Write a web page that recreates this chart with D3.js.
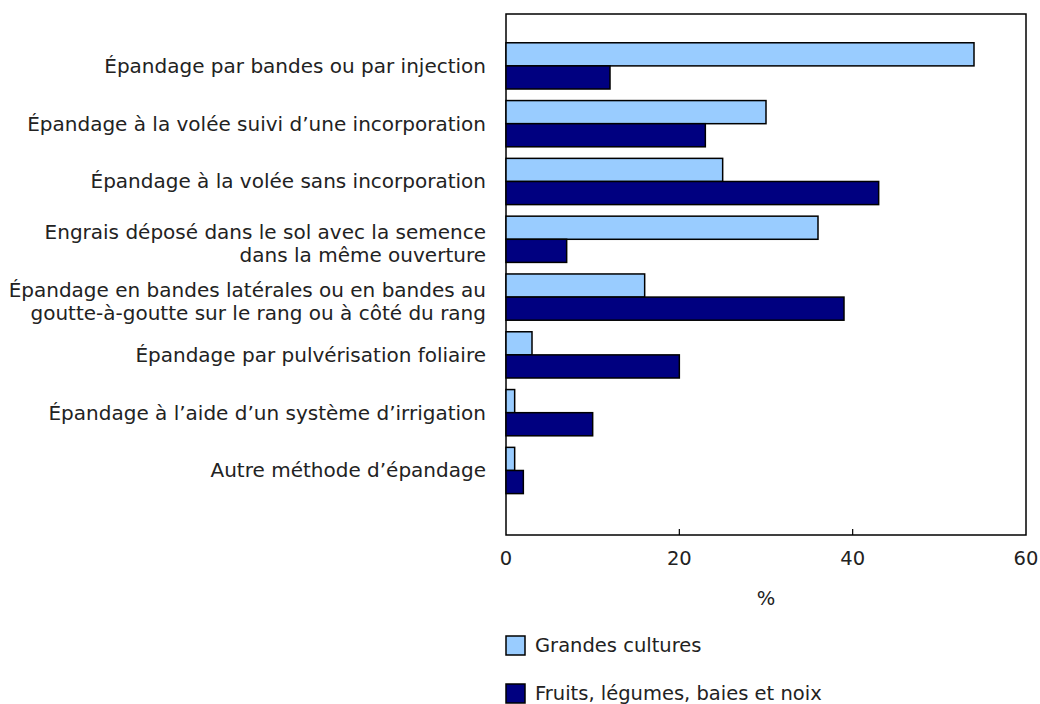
<!DOCTYPE html>
<html>
<head>
<meta charset="utf-8">
<script src="https://d3js.org/d3.v7.min.js"></script>
<style>
  body { margin: 0; background: #fff; }
  svg text { font-family: "DejaVu Sans", Verdana, sans-serif; fill: #222; }
</style>
</head>
<body>
<svg width="1040" height="704"></svg>
<script>
// categories (one array of lines per label)
var categories = [
  ["Épandage par bandes ou par injection"],
  ["Épandage à la volée suivi d’une incorporation"],
  ["Épandage à la volée sans incorporation"],
  ["Engrais déposé dans le sol avec la semence", "dans la même ouverture"],
  ["Épandage en bandes latérales ou en bandes au", "goutte-à-goutte sur le rang ou à côté du rang"],
  ["Épandage par pulvérisation foliaire"],
  ["Épandage à l’aide d’un système d’irrigation"],
  ["Autre méthode d’épandage"]
];
var seriesNames = ["Grandes cultures", "Fruits, légumes, baies et noix"];
var grandes = [54, 30, 25, 36, 16, 3, 1, 1];
var fruits = [12, 23, 43, 7, 39, 20, 10, 2];
var xTicks = [0, 20, 40, 60];
var colors = ["#99ccff", "#000080"];

var svg = d3.select("svg");
var plotL = 506, plotR = 1026, plotT = 14, plotB = 535;

var x = d3.scaleLinear().domain([0, 60]).range([plotL, plotR]);
var keys = categories.map(function(d, i) { return i; });
var y = d3.scaleBand().domain(keys).range([plotT, plotB])
  .paddingInner(0.2).paddingOuter(0.607).align(0.41);
var ySub = d3.scaleBand().domain([0, 1]).range([0, y.bandwidth()]);

var data = keys.map(function(i) { return [grandes[i], fruits[i]]; });

// frame
svg.append("rect")
  .attr("x", plotL).attr("y", plotT)
  .attr("width", plotR - plotL).attr("height", plotB - plotT)
  .attr("fill", "none").attr("stroke", "#000").attr("stroke-width", 1.5);

// inner ticks on x axis
svg.append("g").selectAll("line")
  .data(xTicks.slice(1, -1))
  .enter().append("line")
    .attr("x1", function(d) { return x(d); })
    .attr("x2", function(d) { return x(d); })
    .attr("y1", plotB).attr("y2", plotB - 6)
    .attr("stroke", "#000").attr("stroke-width", 1.2);

// bars
var groups = svg.append("g").selectAll("g")
  .data(data)
  .enter().append("g")
    .attr("transform", function(d, i) { return "translate(0," + y(i) + ")"; });

groups.selectAll("rect")
  .data(function(d) { return d; })
  .enter().append("rect")
    .attr("x", x(0))
    .attr("y", function(d, j) { return ySub(j); })
    .attr("width", function(d) { return x(d) - x(0); })
    .attr("height", ySub.bandwidth())
    .attr("fill", function(d, j) { return colors[j]; })
    .attr("stroke", "#000")
    .attr("stroke-width", 1.5);

// category labels
var lineH = 23;
svg.append("g").selectAll("text")
  .data(categories)
  .enter().append("text")
    .attr("text-anchor", "end")
    .attr("font-size", 20)
    .attr("y", function(d, i) {
      var c = y(i) + y.bandwidth() / 2;
      return d.length > 1 ? c - 7 : c;
    })
    .each(function(d) {
      var t = d3.select(this);
      d.forEach(function(line, k) {
        t.append("tspan")
          .attr("x", plotL - 20)
          .attr("dy", k === 0 ? "0.35em" : lineH)
          .text(line);
      });
    });

// tick labels
svg.append("g").selectAll("text")
  .data(xTicks)
  .enter().append("text")
    .attr("x", function(d) { return x(d); })
    .attr("y", 565)
    .attr("text-anchor", "middle")
    .attr("font-size", 19.5)
    .text(function(d) { return d; });

svg.append("text")
  .attr("x", (plotL + plotR) / 2)
  .attr("y", 605)
  .attr("text-anchor", "middle")
  .attr("font-size", 19.5)
  .text("%");

// legend
var legend = svg.append("g").selectAll("g")
  .data(seriesNames)
  .enter().append("g")
    .attr("transform", function(d, i) { return "translate(506," + (636 + i * 48) + ")"; });

legend.append("rect")
  .attr("width", 19).attr("height", 19)
  .attr("fill", function(d, i) { return colors[i]; })
  .attr("stroke", "#000").attr("stroke-width", 1.5);

legend.append("text")
  .attr("x", 29).attr("y", 9)
  .attr("dy", "0.35em")
  .attr("font-size", 19.5)
  .text(function(d) { return d; });
</script>
</body>
</html>
